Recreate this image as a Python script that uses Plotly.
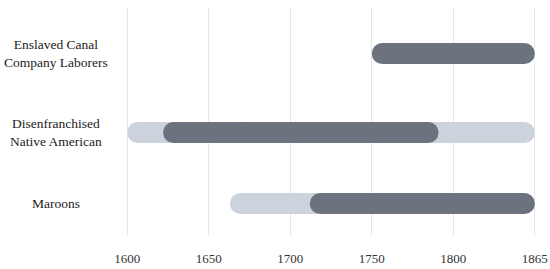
import plotly.graph_objects as go

# ---- data ----
categories = ["Enslaved Canal<br>Company Laborers", "Disenfranchised<br>Native American", "Maroons"]
row_pos = [2.113, 1.0, 0.0]

# light (broader) ranges: (category index, start, end)
light_cat = [1, 2]
light_start = [1600, 1663]
light_end = [1865, 1865]

# dark (core) ranges
dark_cat = [0, 1, 1, 2]
dark_start = [1750, 1622, 1663, 1712]
dark_end = [1865, 1676, 1791, 1865]

tick_years = [1600, 1650, 1700, 1750, 1800, 1865]

LIGHT = "#cdd3dc"
DARK = "#6c727e"
GRID = "#e3e6ea"
FONT = "Liberation Serif, Times New Roman, serif"

# piecewise x scale: 1800..1865 compressed to one tick interval
def xmap(v):
    return v if v <= 1800 else 1800 + (v - 1800) * 50.0 / 65.0

W, H = 550, 269
ML, MR, MT, MB = 119, 7, 7, 33
XR = [1595, 1855]
YR = [-0.458, 2.768]
plot_w = W - ML - MR
px_per_unit = plot_w / (XR[1] - XR[0])
BAR_PX = 21
r_units = (BAR_PX / 2) / px_per_unit

fig = go.Figure()

def add_bars(cats, starts, ends, color):
    for c, s, e in zip(cats, starts, ends):
        x0 = xmap(s) + r_units
        x1 = xmap(e) - r_units
        y = row_pos[c]
        fig.add_trace(go.Scatter(
            x=[x0, x1], y=[y, y], mode="lines+markers",
            line=dict(color=color, width=BAR_PX),
            marker=dict(color=color, size=BAR_PX, line=dict(width=0)),
            hoverinfo="skip", showlegend=False, cliponaxis=False))

add_bars(light_cat, light_start, light_end, LIGHT)
add_bars(dark_cat, dark_start, dark_end, DARK)

for cat, y in zip(categories, row_pos):
    fig.add_annotation(
        text=cat, xref="paper", yref="y", x=(56 - ML) / plot_w, y=y,
        xanchor="center", yanchor="middle", align="center", showarrow=False,
        font=dict(family=FONT, size=13.5, color="#222222"))

fig.update_layout(
    width=W, height=H, autosize=False,
    margin=dict(l=ML, r=MR, t=MT, b=MB, autoexpand=False),
    paper_bgcolor="white", plot_bgcolor="white",
    hovermode=False,
    xaxis=dict(range=XR, tickvals=[xmap(t) for t in tick_years],
               ticktext=[str(t) for t in tick_years], automargin=False,
               showgrid=True, gridcolor=GRID, gridwidth=1, zeroline=False,
               showline=False, ticks="outside", ticklen=10, tickcolor="rgba(0,0,0,0)",
               tickfont=dict(family=FONT, size=13, color="#333333")),
    yaxis=dict(range=YR, showgrid=False, zeroline=False, showticklabels=False,
               showline=False, automargin=False),
)

fig.write_html(
    "out.html",
    config={"displayModeBar": False, "responsive": False},
    post_script="document.body.style.margin='0';document.body.style.padding='0';document.body.style.overflow='hidden';",
)
